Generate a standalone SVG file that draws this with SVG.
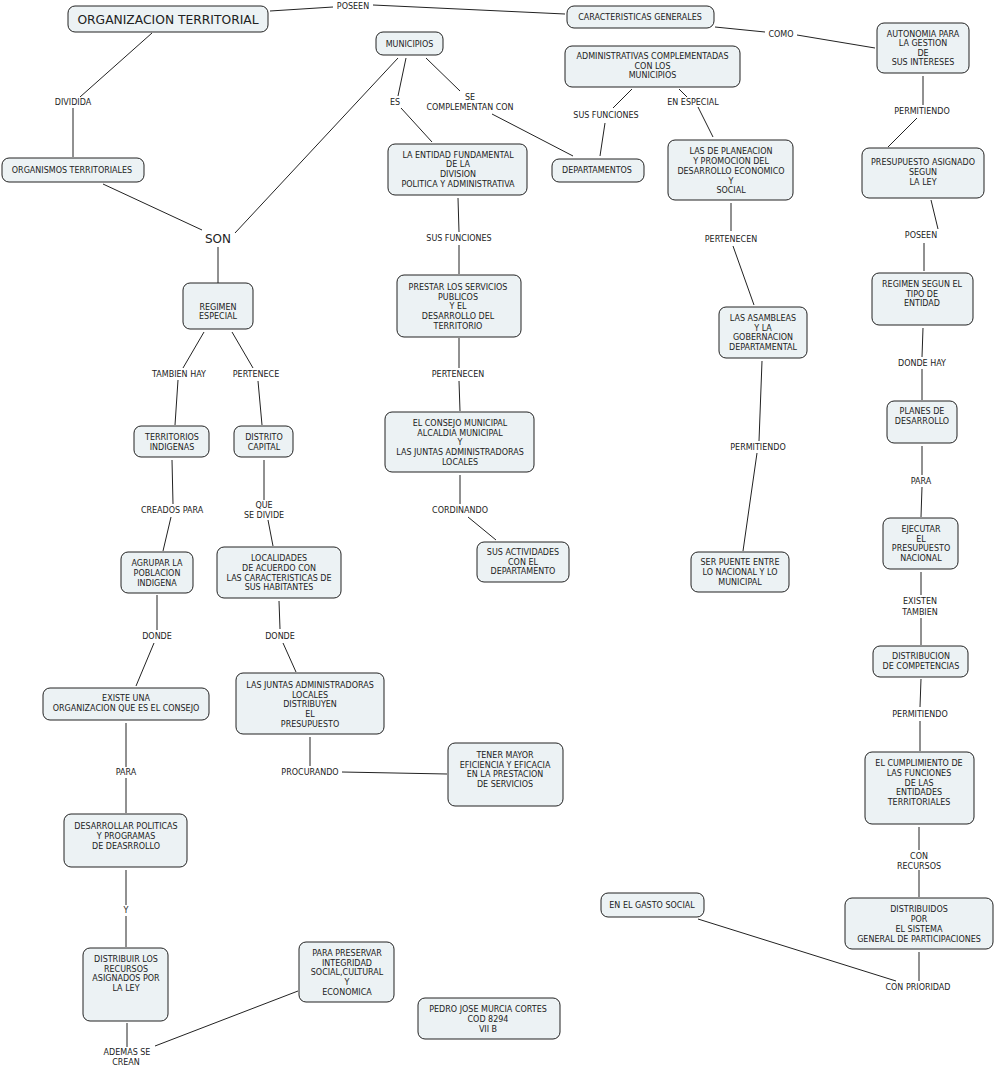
<svg xmlns="http://www.w3.org/2000/svg" width="995" height="1068" viewBox="0 0 995 1068">
<style>
.n rect{fill:#ecf2f4;stroke:#222;stroke-width:1}
text{font-family:"DejaVu Sans",Verdana,sans-serif;font-size:8px;fill:#222;text-anchor:middle}
.big{font-size:12.3px}
.c line{stroke:#222;stroke-width:1}
</style>
<rect width="995" height="1068" fill="#fff"/>
<g class="c">
<line x1="270" y1="11" x2="333" y2="7"/>
<line x1="373" y1="5" x2="565" y2="14"/>
<line x1="715" y1="27" x2="765" y2="32"/>
<line x1="797" y1="35" x2="875" y2="48"/>
<line x1="152" y1="33" x2="80" y2="97"/>
<line x1="73" y1="108" x2="73" y2="157"/>
<line x1="103" y1="184" x2="202" y2="230"/>
<line x1="398" y1="58" x2="235" y2="233"/>
<line x1="218" y1="247" x2="218" y2="283"/>
<line x1="406" y1="58" x2="398" y2="96"/>
<line x1="401" y1="108" x2="432" y2="142"/>
<line x1="426" y1="58" x2="460" y2="91"/>
<line x1="492" y1="114" x2="573" y2="156"/>
<line x1="632" y1="89" x2="613" y2="108"/>
<line x1="605" y1="123" x2="600" y2="156"/>
<line x1="679" y1="89" x2="687" y2="97"/>
<line x1="698" y1="107" x2="713" y2="137"/>
<line x1="923" y1="76" x2="923" y2="105"/>
<line x1="917" y1="118" x2="888" y2="147"/>
<line x1="458" y1="198" x2="459" y2="232"/>
<line x1="459" y1="245" x2="459" y2="274"/>
<line x1="731" y1="203" x2="731" y2="231"/>
<line x1="733" y1="246" x2="754" y2="305"/>
<line x1="931" y1="200" x2="938" y2="229"/>
<line x1="924" y1="243" x2="924" y2="271"/>
<line x1="204" y1="332" x2="183" y2="368"/>
<line x1="178" y1="380" x2="175" y2="425"/>
<line x1="232" y1="332" x2="253" y2="368"/>
<line x1="258" y1="381" x2="262" y2="425"/>
<line x1="459" y1="338" x2="459" y2="368"/>
<line x1="459" y1="381" x2="460" y2="411"/>
<line x1="923" y1="328" x2="922" y2="357"/>
<line x1="922" y1="369" x2="922" y2="400"/>
<line x1="762" y1="361" x2="759" y2="441"/>
<line x1="757" y1="453" x2="743" y2="551"/>
<line x1="922" y1="446" x2="922" y2="475"/>
<line x1="922" y1="487" x2="921" y2="517"/>
<line x1="172" y1="460" x2="173" y2="504"/>
<line x1="171" y1="517" x2="163" y2="551"/>
<line x1="264" y1="460" x2="264" y2="500"/>
<line x1="268" y1="520" x2="273" y2="546"/>
<line x1="460" y1="475" x2="460" y2="504"/>
<line x1="468" y1="517" x2="496" y2="540"/>
<line x1="921" y1="572" x2="921" y2="595"/>
<line x1="921" y1="618" x2="921" y2="645"/>
<line x1="157" y1="595" x2="157" y2="630"/>
<line x1="154" y1="643" x2="136" y2="686"/>
<line x1="279" y1="601" x2="280" y2="629"/>
<line x1="283" y1="643" x2="296" y2="672"/>
<line x1="921" y1="679" x2="920" y2="707"/>
<line x1="920" y1="721" x2="920" y2="751"/>
<line x1="126" y1="723" x2="126" y2="767"/>
<line x1="126" y1="778" x2="126" y2="813"/>
<line x1="310" y1="737" x2="310" y2="766"/>
<line x1="342" y1="772" x2="447" y2="774"/>
<line x1="919" y1="827" x2="919" y2="850"/>
<line x1="919" y1="870" x2="919" y2="897"/>
<line x1="126" y1="870" x2="126" y2="905"/>
<line x1="126" y1="916" x2="126" y2="947"/>
<line x1="919" y1="952" x2="919" y2="981"/>
<line x1="698" y1="919" x2="896" y2="981"/>
<line x1="127" y1="1023" x2="127" y2="1047"/>
<line x1="155" y1="1046" x2="298" y2="991"/>
</g>
<g id="labels">
<text x="353" y="9">POSEEN</text>
<text x="781" y="37">COMO</text>
<text x="73" y="105">DIVIDIDA</text>
<text x="395" y="105">ES</text>
<text x="470" y="100">SE</text>
<text x="470" y="110">COMPLEMENTAN CON</text>
<text x="606" y="118">SUS FUNCIONES</text>
<text x="693" y="105">EN ESPECIAL</text>
<text x="922" y="114">PERMITIENDO</text>
<text class="big" x="218" y="242.5" style="font-size:12px">SON</text>
<text x="459" y="241">SUS FUNCIONES</text>
<text x="731" y="242">PERTENECEN</text>
<text x="921" y="238">POSEEN</text>
<text x="179" y="377">TAMBIEN HAY</text>
<text x="256" y="377">PERTENECE</text>
<text x="458" y="377">PERTENECEN</text>
<text x="922" y="366">DONDE HAY</text>
<text x="758" y="450">PERMITIENDO</text>
<text x="921" y="484">PARA</text>
<text x="172" y="513">CREADOS PARA</text>
<text x="264" y="508">QUE</text>
<text x="264" y="518">SE DIVIDE</text>
<text x="460" y="513">CORDINANDO</text>
<text x="920" y="604">EXISTEN</text>
<text x="920" y="615">TAMBIEN</text>
<text x="157" y="639">DONDE</text>
<text x="280" y="639">DONDE</text>
<text x="920" y="717">PERMITIENDO</text>
<text x="126" y="775">PARA</text>
<text x="310" y="775">PROCURANDO</text>
<text x="919" y="859">CON</text>
<text x="919" y="869">RECURSOS</text>
<text x="126" y="913">Y</text>
<text x="918" y="990">CON PRIORIDAD</text>
<text x="127" y="1055">ADEMAS SE</text>
<text x="126" y="1065">CREAN</text>
</g>
<g id="n1" class="n"><rect x="68" y="6" width="200" height="26" rx="7"/><text class="big" x="168" y="23.5">ORGANIZACION TERRITORIAL</text></g>
<g id="n2" class="n"><rect x="567" y="6" width="147" height="22" rx="7"/><text x="640" y="20">CARACTERISTICAS GENERALES</text></g>
<g id="n3" class="n"><rect x="376" y="32" width="67" height="23" rx="7"/><text x="409.5" y="47">MUNICIPIOS</text></g>
<g id="n4" class="n"><rect x="565" y="46" width="175" height="41" rx="7"/><text x="652.5"><tspan x="652.5" y="59">ADMINISTRATIVAS COMPLEMENTADAS</tspan><tspan x="652.5" y="69">CON LOS</tspan><tspan x="652.5" y="78">MUNICIPIOS</tspan></text></g>
<g id="n5" class="n"><rect x="877" y="23" width="92" height="50" rx="7"/><text><tspan x="923" y="37">AUTONOMIA PARA</tspan><tspan x="923" y="46">LA GESTION</tspan><tspan x="923" y="56">DE</tspan><tspan x="923" y="65">SUS INTERESES</tspan></text></g>
<g id="n6" class="n"><rect x="2" y="158" width="142" height="24" rx="7"/><text x="72" y="173">ORGANISMOS TERRITORIALES</text></g>
<g id="n7" class="n"><rect x="388" y="144" width="139" height="51" rx="7"/><text><tspan x="458" y="158">LA ENTIDAD FUNDAMENTAL</tspan><tspan x="458" y="167">DE LA</tspan><tspan x="458" y="177">DIVISION</tspan><tspan x="458" y="187">POLITICA Y ADMINISTRATIVA</tspan></text></g>
<g id="n8" class="n"><rect x="552" y="159" width="92" height="23" rx="7"/><text x="597" y="173">DEPARTAMENTOS</text></g>
<g id="n9" class="n"><rect x="668" y="140" width="125" height="60" rx="7"/><text><tspan x="731" y="154">LAS DE PLANEACION</tspan><tspan x="731" y="164">Y PROMOCION DEL</tspan><tspan x="731" y="174">DESARROLLO ECONOMICO</tspan><tspan x="731" y="184">Y</tspan><tspan x="731" y="193">SOCIAL</tspan></text></g>
<g id="n10" class="n"><rect x="862" y="148" width="122" height="50" rx="7"/><text><tspan x="923" y="165">PRESUPUESTO ASIGNADO</tspan><tspan x="923" y="175">SEGUN</tspan><tspan x="923" y="185">LA LEY</tspan></text></g>
<g id="n11" class="n"><rect x="183" y="283" width="70" height="46" rx="7"/><text><tspan x="218" y="310">REGIMEN</tspan><tspan x="218" y="319">ESPECIAL</tspan></text></g>
<g id="n12" class="n"><rect x="397" y="275" width="124" height="62" rx="7"/><text><tspan x="458" y="290">PRESTAR LOS SERVICIOS</tspan><tspan x="458" y="300">PUBLICOS</tspan><tspan x="458" y="309">Y EL</tspan><tspan x="458" y="319">DESARROLLO DEL</tspan><tspan x="458" y="329">TERRITORIO</tspan></text></g>
<g id="n13" class="n"><rect x="719" y="307" width="88" height="51" rx="7"/><text><tspan x="763" y="321">LAS ASAMBLEAS</tspan><tspan x="763" y="331">Y LA</tspan><tspan x="763" y="340">GOBERNACION</tspan><tspan x="763" y="350">DEPARTAMENTAL</tspan></text></g>
<g id="n14" class="n"><rect x="872" y="273" width="101" height="52" rx="7"/><text><tspan x="922" y="287">REGIMEN SEGUN EL</tspan><tspan x="922" y="297">TIPO DE</tspan><tspan x="922" y="306">ENTIDAD</tspan></text></g>
<g id="n15" class="n"><rect x="134" y="426" width="75" height="31" rx="7"/><text><tspan x="172" y="440">TERRITORIOS</tspan><tspan x="172" y="450">INDIGENAS</tspan></text></g>
<g id="n16" class="n"><rect x="234" y="426" width="59" height="31" rx="7"/><text><tspan x="264" y="440">DISTRITO</tspan><tspan x="264" y="450">CAPITAL</tspan></text></g>
<g id="n17" class="n"><rect x="385" y="412" width="149" height="60" rx="7"/><text><tspan x="460" y="426">EL CONSEJO MUNICIPAL</tspan><tspan x="460" y="436">ALCALDIA MUNICIPAL</tspan><tspan x="460" y="445">Y</tspan><tspan x="460" y="455">LAS JUNTAS ADMINISTRADORAS</tspan><tspan x="460" y="465">LOCALES</tspan></text></g>
<g id="n18" class="n"><rect x="887" y="401" width="70" height="42" rx="7"/><text><tspan x="922" y="414">PLANES DE</tspan><tspan x="922" y="424">DESARROLLO</tspan></text></g>
<g id="n19" class="n"><rect x="121" y="552" width="72" height="41" rx="7"/><text><tspan x="157" y="566">AGRUPAR LA</tspan><tspan x="157" y="576">POBLACION</tspan><tspan x="157" y="586">INDIGENA</tspan></text></g>
<g id="n20" class="n"><rect x="217" y="547" width="124" height="51" rx="7"/><text><tspan x="279" y="561">LOCALIDADES</tspan><tspan x="279" y="571">DE ACUERDO CON</tspan><tspan x="279" y="581">LAS CARACTERISTICAS DE</tspan><tspan x="279" y="590">SUS HABITANTES</tspan></text></g>
<g id="n21" class="n"><rect x="477" y="542" width="92" height="40" rx="7"/><text><tspan x="523" y="555">SUS ACTIVIDADES</tspan><tspan x="523" y="565">CON EL</tspan><tspan x="523" y="574">DEPARTAMENTO</tspan></text></g>
<g id="n22" class="n"><rect x="691" y="552" width="98" height="40" rx="7"/><text><tspan x="740" y="565">SER PUENTE ENTRE</tspan><tspan x="740" y="575">LO NACIONAL Y LO</tspan><tspan x="740" y="585">MUNICIPAL</tspan></text></g>
<g id="n23" class="n"><rect x="883" y="518" width="75" height="51" rx="7"/><text><tspan x="921" y="532">EJECUTAR</tspan><tspan x="921" y="542">EL</tspan><tspan x="921" y="551">PRESUPUESTO</tspan><tspan x="921" y="561">NACIONAL</tspan></text></g>
<g id="n24" class="n"><rect x="43" y="688" width="166" height="32" rx="7"/><text><tspan x="126" y="701">EXISTE UNA</tspan><tspan x="126" y="711">ORGANIZACION QUE ES EL CONSEJO</tspan></text></g>
<g id="n25" class="n"><rect x="236" y="673" width="148" height="61" rx="7"/><text><tspan x="310" y="688">LAS JUNTAS ADMINISTRADORAS</tspan><tspan x="310" y="698">LOCALES</tspan><tspan x="310" y="707">DISTRIBUYEN</tspan><tspan x="310" y="717">EL</tspan><tspan x="310" y="727">PRESUPUESTO</tspan></text></g>
<g id="n26" class="n"><rect x="873" y="646" width="95" height="31" rx="7"/><text><tspan x="921" y="659">DISTRIBUCION</tspan><tspan x="921" y="669">DE COMPETENCIAS</tspan></text></g>
<g id="n27" class="n"><rect x="448" y="743" width="115" height="63" rx="7"/><text><tspan x="505" y="758">TENER MAYOR</tspan><tspan x="505" y="768">EFICIENCIA Y EFICACIA</tspan><tspan x="505" y="777">EN LA PRESTACION</tspan><tspan x="505" y="787">DE SERVICIOS</tspan></text></g>
<g id="n28" class="n"><rect x="865" y="752" width="109" height="72" rx="7"/><text><tspan x="919" y="766">EL CUMPLIMIENTO DE</tspan><tspan x="919" y="776">LAS FUNCIONES</tspan><tspan x="919" y="786">DE LAS</tspan><tspan x="919" y="795">ENTIDADES</tspan><tspan x="919" y="805">TERRITORIALES</tspan></text></g>
<g id="n29" class="n"><rect x="64" y="814" width="123" height="53" rx="7"/><text><tspan x="126" y="829">DESARROLLAR POLITICAS</tspan><tspan x="126" y="839">Y PROGRAMAS</tspan><tspan x="126" y="849">DE DEASRROLLO</tspan></text></g>
<g id="n30" class="n"><rect x="601" y="893" width="103" height="24" rx="7"/><text x="652" y="908">EN EL GASTO SOCIAL</text></g>
<g id="n31" class="n"><rect x="845" y="898" width="148" height="51" rx="7"/><text><tspan x="919" y="912">DISTRIBUIDOS</tspan><tspan x="919" y="922">POR</tspan><tspan x="919" y="932">EL SISTEMA</tspan><tspan x="919" y="942">GENERAL DE PARTICIPACIONES</tspan></text></g>
<g id="n32" class="n"><rect x="83" y="948" width="85" height="73" rx="7"/><text><tspan x="126" y="962">DISTRIBUIR LOS</tspan><tspan x="126" y="972">RECURSOS</tspan><tspan x="126" y="981">ASIGNADOS POR</tspan><tspan x="126" y="991">LA LEY</tspan></text></g>
<g id="n33" class="n"><rect x="299" y="942" width="95" height="60" rx="7"/><text><tspan x="347" y="956">PARA PRESERVAR</tspan><tspan x="347" y="966">INTEGRIDAD</tspan><tspan x="347" y="975">SOCIAL,CULTURAL</tspan><tspan x="347" y="985">Y</tspan><tspan x="347" y="995">ECONOMICA</tspan></text></g>
<g id="n34" class="n"><rect x="418" y="998" width="142" height="41" rx="7"/><text><tspan x="488" y="1012">PEDRO JOSE MURCIA CORTES</tspan><tspan x="488" y="1022">COD 8294</tspan><tspan x="488" y="1032">VII B</tspan></text></g>
</svg>
